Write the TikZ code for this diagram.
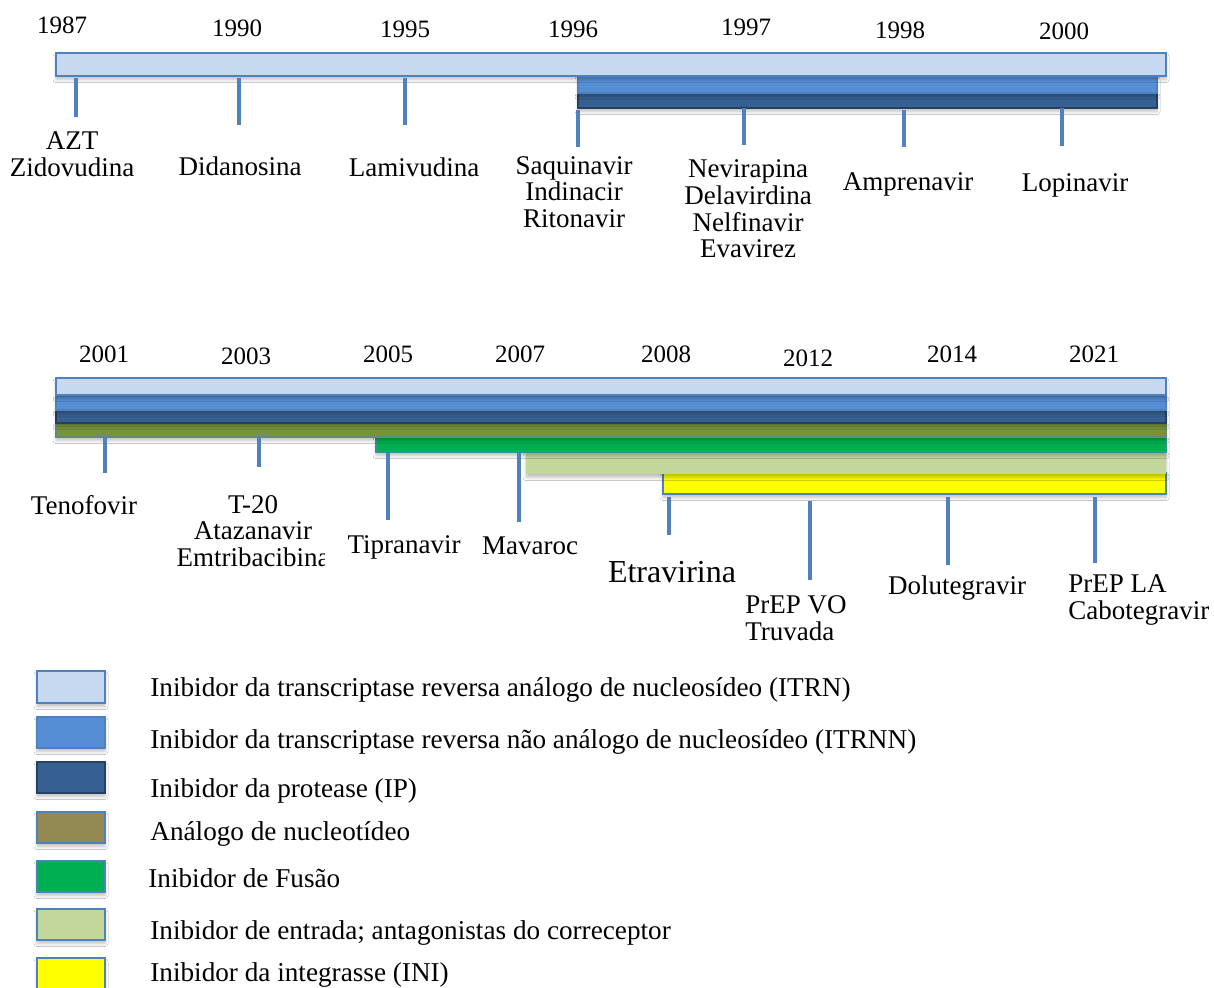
\documentclass[tikz,border=0pt]{standalone}
\usepackage{fontspec}
\setmainfont{Liberation Serif}
\usetikzlibrary{shadows.blur}
\definecolor{itrn}{HTML}{C6D9F1}
\definecolor{itrnn}{HTML}{558ED5}
\definecolor{ipc}{HTML}{376092}
\definecolor{ipedge}{HTML}{254061}
\definecolor{olivebar}{HTML}{77933C}
\definecolor{oliveleg}{HTML}{938953}
\definecolor{fusion}{HTML}{00B050}
\definecolor{entry}{HTML}{C3D69B}
\definecolor{integ}{HTML}{FFFF00}
\definecolor{tickc}{HTML}{4F81BD}
\definecolor{edgec}{HTML}{4F81BD}
\begin{document}
\begin{tikzpicture}[x=0.5pt,y=-0.5pt,
  sh/.style={blur shadow={shadow xshift=0pt,shadow yshift=-1.8pt,shadow blur radius=1.5pt,shadow blur steps=6,shadow opacity=25}},
  barbox/.style={sh,line width=0.7pt},
  tickline/.style={draw=tickc,line width=2.2pt},
  yr/.style={font=\fontsize{12.5}{15}\selectfont,inner sep=0pt},
  drug/.style={font=\fontsize{13.5}{13.3}\selectfont,align=center,inner sep=0pt},
  legtext/.style={font=\fontsize{13.6}{15}\selectfont,anchor=west,inner sep=0pt},
  swatch/.style={sh,draw=edgec,line width=0.8pt}]
\useasboundingbox (0,0) rectangle (1214,988);
\fill[white] (0,0) rectangle (1214,988);

% ---------- top timeline ----------
\path[barbox,fill=ipc,draw=ipedge] (578,93) rectangle (1157,108);
\path[barbox,fill=itrnn,draw=edgec] (578,76) rectangle (1157,93);
\path[barbox,fill=itrn,draw=edgec] (56,53) rectangle (1166,76);

\node[yr] (y1987) at (62,25) {1987};
\node[yr] (y1990) at (237,28) {1990};
\node[yr] (y1995) at (405,29) {1995};
\node[yr] (y1996) at (573,29) {1996};
\node[yr] (y1997) at (746,27) {1997};
\node[yr] (y1998) at (900,30) {1998};
\node[yr] (y2000) at (1064,31) {2000};

\draw[tickline] (76,78) -- (76,117);
\draw[tickline] (239,78) -- (239,125);
\draw[tickline] (405,78) -- (405,125);
\draw[tickline] (578,110) -- (578,147);
\draw[tickline] (744,108) -- (744,145);
\draw[tickline] (904,110) -- (904,147);
\draw[tickline] (1062,108) -- (1062,146);

\node[drug] (azt) at (72,154) {AZT\\Zidovudina};
\node[drug] (did) at (240,166) {Didanosina};
\node[drug] (lam) at (414,167) {Lamivudina};
\node[drug] (saq) at (574,192) {Saquinavir\\Indinacir\\Ritonavir};
\node[drug] (nev) at (748,209) {Nevirapina\\Delavirdina\\Nelfinavir\\Evavirez};
\node[drug] (amp) at (908,184) {Amprenavir};
\node[drug] (lop) at (1075,185) {Lopinavir};

% ---------- bottom timeline ----------
\path[barbox,fill=integ,draw=edgec] (663,473) rectangle (1166,494);
\path[sh,fill=entry] (526,452) rectangle (1166,474);
\path[barbox,fill=fusion,draw=edgec!60!fusion] (376,437) rectangle (1166,452);
\path[barbox,fill=olivebar,draw=edgec!50!olivebar] (56,423) rectangle (1166,437);
\path[barbox,fill=ipc,draw=ipedge] (56,410) rectangle (1166,423);
\path[barbox,fill=itrnn,draw=edgec] (56,396) rectangle (1166,410);
\path[barbox,fill=itrn,draw=edgec] (56,378) rectangle (1166,395);

\node[yr] (y2001) at (104,354) {2001};
\node[yr] (y2003) at (246,356) {2003};
\node[yr] (y2005) at (388,354) {2005};
\node[yr] (y2007) at (520,354) {2007};
\node[yr] (y2008) at (666,354) {2008};
\node[yr] (y2012) at (808,358) {2012};
\node[yr] (y2014) at (952,354) {2014};
\node[yr] (y2021) at (1094,354) {2021};

\draw[tickline] (105,438) -- (105,473);
\draw[tickline] (259,438) -- (259,467);
\draw[tickline] (388,453) -- (388,520);
\draw[tickline] (519,453) -- (519,522);
\draw[tickline] (669,497) -- (669,535);
\draw[tickline] (810,501) -- (810,580);
\draw[tickline] (948,497) -- (948,565);
\draw[tickline] (1095,497) -- (1095,563);

\node[drug] (ten) at (84,505) {Tenofovir};
\begin{scope}
\clip (150,480) rectangle (324,580);
\node[drug] (t20) at (253,531) {T-20\\Atazanavir\\Emtribacibina};
\end{scope}
\node[drug] (tip) at (404,547) {Tipranavir};
\node[drug] (mav) at (530,546) {Mavaroc};
\node[drug,font=\fontsize{16}{18}\selectfont] (etr) at (672,572) {Etravirina};
\node[drug,align=left,anchor=west] (prepvo) at (745,618) {PrEP VO\\Truvada};
\node[drug] (dol) at (957,588) {Dolutegravir};
\node[drug,align=left,anchor=west] (prepla) at (1068,600) {PrEP LA\\Cabotegravir};

% ---------- legend ----------
\path[swatch,fill=itrn] (37,671) rectangle (105,703);
\path[swatch,fill=itrnn] (37,717) rectangle (105,748);
\path[swatch,fill=ipc,draw=ipedge] (37,762) rectangle (105,793);
\path[swatch,fill=oliveleg] (37,812) rectangle (105,843);
\path[swatch,fill=fusion] (37,861) rectangle (105,892);
\path[swatch,fill=entry] (37,909) rectangle (105,940);
\path[swatch,fill=integ] (37,958) rectangle (105,992);

\node[legtext] (l1) at (150,690) {Inibidor da transcriptase reversa análogo de nucleosídeo (ITRN)};
\node[legtext] (l2) at (150,742) {Inibidor da transcriptase reversa não análogo de nucleosídeo (ITRNN)};
\node[legtext] (l3) at (150,791) {Inibidor da protease (IP)};
\node[legtext] (l4) at (150,834) {Análogo de nucleotídeo};
\node[legtext] (l5) at (148,878) {Inibidor de Fusão};
\node[legtext] (l6) at (150,933) {Inibidor de entrada; antagonistas do correceptor};
\node[legtext] (l7) at (150,975) {Inibidor da integrasse (INI)};
\end{tikzpicture}
\end{document}
